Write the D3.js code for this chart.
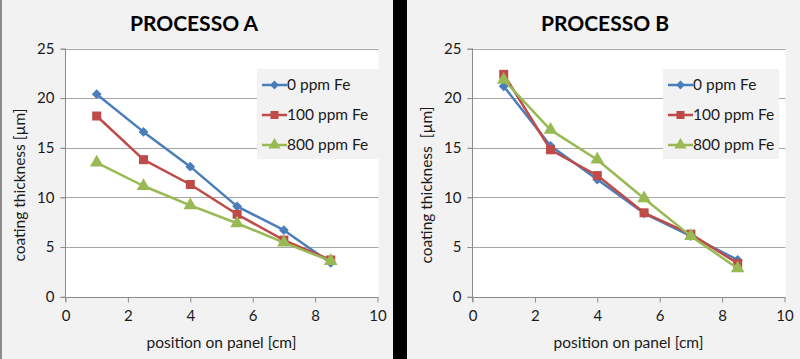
<!DOCTYPE html>
<html>
<head>
<meta charset="utf-8">
<script src="https://cdn.jsdelivr.net/npm/d3@7"></script>
<style>
  html, body { margin: 0; padding: 0; background: #f2f2f2; }
  svg { display: block; font-family: Lato, "Open Sans", sans-serif; }
</style>
</head>
<body>
<svg id="chart" width="800" height="359"></svg>
<script>
// ---- data ----
const positions = [1, 2.5, 4, 5.5, 7, 8.5];
const seriesNames = ["0 ppm Fe", "100 ppm Fe", "800 ppm Fe"];
const xTicks = [0, 2, 4, 6, 8, 10];
const yTicks = [0, 5, 10, 15, 20, 25];

const procA_0ppm   = [20.4, 16.6, 13.1, 9.1, 6.7, 3.4];
const procA_100ppm = [18.2, 13.8, 11.3, 8.3, 5.7, 3.7];
const procA_800ppm = [13.5, 11.15, 9.2, 7.4, 5.45, 3.6];

const procB_0ppm   = [21.2, 15.2, 11.8, 8.4, 6.1, 3.7];
const procB_100ppm = [22.4, 14.8, 12.2, 8.45, 6.3, 3.35];
const procB_800ppm = [21.85, 16.8, 13.8, 9.9, 6.1, 2.85];

const titles = ["PROCESSO A", "PROCESSO B"];
const xLabel = "position on panel [cm]";
const yLabels = ["coating thickness [µm]", "coating thickness  [µm]"];

// ---- styles ----
const colors = ["#4a7ebb", "#be4b48", "#98b954"];
const symbols = [d3.symbolSquare, d3.symbolSquare, d3.symbolTriangle];
const rotations = [45, 0, 0];
const symSizes = [48, 81, 80];

const svg = d3.select("#chart");

// background & separators
svg.append("rect").attr("x", 0).attr("y", 0).attr("width", 800).attr("height", 359).attr("fill", "#f2f2f2");
svg.append("rect").attr("x", 0).attr("y", 0).attr("width", 2).attr("height", 359).attr("fill", "#8a8a8a");
svg.append("rect").attr("x", 393).attr("y", 0).attr("width", 14).attr("height", 359).attr("fill", "#000");

const panels = [
  { title: titles[0], yLabel: yLabels[0], data: [procA_0ppm, procA_100ppm, procA_800ppm], x0: 65.5, x1: 377.5, titleX: 194, yLabX: 20, legX: 257, legW: 124 },
  { title: titles[1], yLabel: yLabels[1], data: [procB_0ppm, procB_100ppm, procB_800ppm], x0: 472.5, x1: 784.5, titleX: 605, yLabX: 427, legX: 663, legW: 116 }
];

const yTop = 48.5, yBot = 296.7;

panels.forEach(p => {
  const g = svg.append("g");
  const x = d3.scaleLinear().domain([0, 10]).range([p.x0, p.x1]);
  const y = d3.scaleLinear().domain([0, 25]).range([yBot, yTop]);

  // plot area
  g.append("rect").attr("x", p.x0).attr("y", yTop).attr("width", p.x1 - p.x0 + 1).attr("height", yBot - yTop).attr("fill", "#ffffff");

  // gridlines
  g.append("g").selectAll("line").data(yTicks.filter(t => t > 0)).join("line")
    .attr("x1", p.x0 - 5).attr("x2", p.x1 + 1)
    .attr("y1", d => Math.round(y(d)) + 0.5).attr("y2", d => Math.round(y(d)) + 0.5)
    .attr("stroke", "#a6a6a6").attr("stroke-width", 1);

  // y axis
  const yAxis = g.append("g").attr("transform", `translate(${p.x0},0)`)
    .call(d3.axisLeft(y).tickValues(yTicks).tickSize(5).tickPadding(6));
  // x axis
  const xAxis = g.append("g").attr("transform", `translate(0,${Math.round(yBot) + 0.5})`)
    .call(d3.axisBottom(x).tickValues(xTicks).tickSize(5).tickPadding(8));
  [yAxis, xAxis].forEach(a => {
    a.selectAll(".tick line").attr("stroke", "#8c8c8c");
    a.selectAll(".tick text").attr("fill", "#1a1a1a").style("font-size", "15px").style("font-family", "Lato, sans-serif");
  });
  yAxis.select(".domain").remove();
  xAxis.select(".domain").remove();
  g.append("line").attr("x1", p.x0).attr("x2", p.x0).attr("y1", yTop).attr("y2", yBot + 5).attr("stroke", "#8c8c8c");
  g.append("line").attr("x1", p.x0 - 5).attr("x2", p.x1 + 1).attr("y1", Math.round(yBot) + 0.5).attr("y2", Math.round(yBot) + 0.5).attr("stroke", "#8c8c8c");

  // title
  g.append("text").attr("x", p.titleX).attr("y", 31).attr("text-anchor", "middle")
    .style("font-size", "21px").style("font-weight", "bold").attr("fill", "#000").text(p.title);

  // axis titles
  g.append("text").attr("x", (p.x0 + p.x1) / 2).attr("y", 348).attr("text-anchor", "middle")
    .style("font-size", "15.5px").attr("fill", "#1a1a1a").text(xLabel);
  g.append("text").attr("transform", `translate(${p.yLabX + 5},185) rotate(-90)`).attr("text-anchor", "middle")
    .style("font-size", "15.5px").style("white-space", "pre").attr("fill", "#1a1a1a").text(p.yLabel);

  // series
  p.data.forEach((vals, i) => {
    const pts = positions.map((pos, k) => [pos, vals[k]]);
    g.append("path").datum(pts)
      .attr("d", d3.line().x(d => x(d[0])).y(d => y(d[1])))
      .attr("fill", "none").attr("stroke", colors[i]).attr("stroke-width", 2.5).attr("stroke-linejoin", "round");
    g.append("g").selectAll("path").data(pts).join("path")
      .attr("transform", d => `translate(${x(d[0])},${y(d[1])}) rotate(${rotations[i]})`)
      .attr("d", d3.symbol().type(symbols[i]).size(symSizes[i]))
      .attr("fill", colors[i]);
  });

  // legend
  const leg = g.append("g");
  leg.append("rect").attr("x", p.legX).attr("y", 69).attr("width", p.legW).attr("height", 90).attr("fill", "#f2f2f2");
  seriesNames.forEach((name, i) => {
    const cy = 85 + i * 30;
    const lx = p.legX + 5;
    leg.append("line").attr("x1", lx).attr("x2", lx + 25).attr("y1", cy).attr("y2", cy)
      .attr("stroke", colors[i]).attr("stroke-width", 2.5);
    leg.append("path").attr("transform", `translate(${lx + 12.5},${cy}) rotate(${rotations[i]})`)
      .attr("d", d3.symbol().type(symbols[i]).size(symSizes[i] * 0.8)).attr("fill", colors[i]);
    leg.append("text").attr("x", lx + 25).attr("y", cy).attr("dy", "0.35em")
      .style("font-size", "15.5px").attr("fill", "#1a1a1a").text(name);
  });
});
</script>
</body>
</html>
